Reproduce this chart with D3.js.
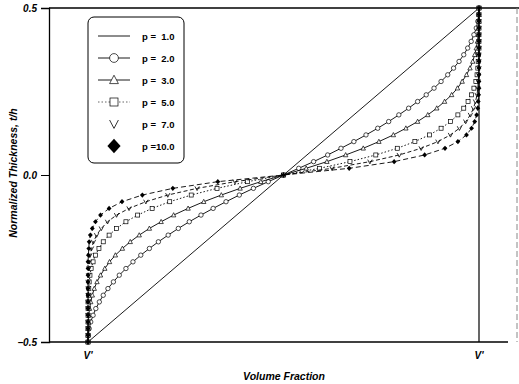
<!DOCTYPE html>
<html>
<head>
<meta charset="utf-8">
<script src="https://cdn.jsdelivr.net/npm/d3@7"></script>
<style>
  body { margin: 0; background: #fff; }
  svg text { font-family: "Liberation Sans", Arial, sans-serif; font-weight: bold; fill: #000; }
</style>
</head>
<body>
<svg id="chart"></svg>
<script>
// Normalized thickness z/h at each sample point
const thickness = [-0.5, -0.48, -0.46, -0.44, -0.42, -0.4, -0.38, -0.36, -0.34, -0.32,
  -0.3, -0.28, -0.26, -0.24, -0.22, -0.2, -0.18, -0.16, -0.14, -0.12,
  -0.1, -0.08, -0.06, -0.04, -0.02, 0, 0.02, 0.04, 0.06, 0.08,
  0.1, 0.12, 0.14, 0.16, 0.18, 0.2, 0.22, 0.24, 0.26, 0.28,
  0.3, 0.32, 0.34, 0.36, 0.38, 0.4, 0.42, 0.44, 0.46, 0.48, 0.5];

// Volume fraction for each p (0 = left V', 1 = right V')
const thicknessP1 = [-0.5, 0.5];
const fractionP1 = [0, 1];
const fractionP2 = [0, .001, .003, .007, .013, .02, .029, .039, .051, .065, .08, .097, .115, .135, .157, .18, .205, .231, .259, .289, .32, .353, .387, .423, .461, .5,
  .539, .577, .613, .647, .68, .711, .741, .769, .795, .82, .843, .865, .885, .903, .92, .935, .949, .961, .971, .98, .987, .993, .997, .999, 1];
const fractionP3 = [0, 0, 0, .001, .002, .004, .007, .011, .016, .023, .032, .043, .055, .07, .088, .108, .131, .157, .187, .219, .256, .296, .341, .389, .442, .5,
  .558, .611, .659, .704, .744, .781, .813, .843, .869, .892, .912, .93, .945, .957, .968, .977, .984, .989, .993, .996, .998, .999, 1, 1, 1];
const fractionP5 = [0, 0, 0, 0, 0, 0, 0, .001, .002, .003, .005, .008, .013, .019, .028, .039, .054, .073, .097, .127, .164, .209, .264, .33, .408, .5,
  .592, .67, .736, .791, .836, .873, .903, .927, .946, .961, .972, .981, .987, .992, .995, .997, .998, .999, 1, 1, 1, 1, 1, 1, 1];
const fractionP7 = [0, 0, 0, 0, 0, 0, 0, 0, 0, 0, .001, .002, .003, .005, .009, .014, .022, .034, .05, .073, .105, .148, .204, .279, .376, .5,
  .624, .721, .796, .852, .895, .927, .95, .966, .978, .986, .991, .995, .997, .998, .999, 1, 1, 1, 1, 1, 1, 1, 1, 1, 1];
const fractionP10 = [0, 0, 0, 0, 0, 0, 0, 0, 0, 0, 0, 0, 0, .001, .002, .003, .006, .011, .019, .032, .054, .087, .139, .217, .332, .5,
  .668, .783, .861, .913, .946, .968, .981, .989, .994, .997, .998, .999, 1, 1, 1, 1, 1, 1, 1, 1, 1, 1, 1, 1, 1];

const legendLabels = ["p =  1.0", "p =  2.0", "p =  3.0", "p =  5.0", "p =  7.0", "p =10.0"];
const yTicks = [0.5, 0.0, -0.5];
const xTickLabels = ["V'", "V'"];

const width = 519, height = 384;
const plotLeft = 49, plotTop = 8, plotBottom = 342, frameRight = 517;

const x = d3.scaleLinear().domain([0, 1]).range([88, 479]);
const y = d3.scaleLinear().domain([-0.5, 0.5]).range([plotBottom, plotTop]);

const svg = d3.select("#chart").attr("width", width).attr("height", height);

const series = [
  { label: legendLabels[0], vf: fractionP1, z: thicknessP1, dash: null, marker: null },
  { label: legendLabels[1], vf: fractionP2, z: thickness, dash: null, marker: "circle" },
  { label: legendLabels[2], vf: fractionP3, z: thickness, dash: null, marker: "triangle" },
  { label: legendLabels[3], vf: fractionP5, z: thickness, dash: "1.5,2", marker: "square" },
  { label: legendLabels[4], vf: fractionP7, z: thickness, dash: "4,2.5", marker: "vee" },
  { label: legendLabels[5], vf: fractionP10, z: thickness, dash: "5,3", marker: "diamond" }
];

// frame
svg.append("line").attr("x1", plotLeft).attr("x2", width).attr("y1", plotTop).attr("y2", plotTop)
  .attr("stroke", "#000").attr("stroke-width", 1.3);
svg.append("line").attr("x1", plotLeft).attr("x2", 508).attr("y1", plotBottom).attr("y2", plotBottom)
  .attr("stroke", "#000").attr("stroke-width", 1.3);
svg.append("line").attr("x1", frameRight).attr("x2", frameRight).attr("y1", plotTop).attr("y2", plotBottom)
  .attr("stroke", "#888").attr("stroke-width", 1).attr("stroke-dasharray", "6,3");
svg.append("line").attr("x1", x(1)).attr("x2", x(1)).attr("y1", plotTop).attr("y2", plotBottom)
  .attr("stroke", "#000").attr("stroke-width", 1.2);

// y-axis
const yAxis = svg.append("g")
  .attr("transform", `translate(${plotLeft},0)`)
  .call(d3.axisLeft(y).tickValues(yTicks).tickSize(8).tickPadding(4).tickFormat(d3.format(".1f")));
yAxis.select(".domain").attr("stroke-width", 1.3);
yAxis.selectAll("text").style("font-size", "10px").style("font-style", "italic").style("font-weight", "bold");

// x labels (V')
svg.append("g").selectAll("text")
  .data(xTickLabels)
  .join("text")
  .attr("x", (d, i) => x(i))
  .attr("y", 359)
  .attr("text-anchor", "middle")
  .style("font-size", "10px").style("font-style", "italic")
  .text(d => d);

// axis titles
svg.append("text").attr("x", 284).attr("y", 380).attr("text-anchor", "middle")
  .style("font-size", "10.5px").style("font-style", "italic").text("Volume Fraction");
svg.append("text").attr("transform", "translate(17,173) rotate(-90)").attr("text-anchor", "middle")
  .style("font-size", "10.5px").style("font-style", "italic").text("Normalized  Thickness, t/h");

function drawMarker(g, type, size) {
  const s = size;
  if (type === "circle") {
    g.append("circle").attr("r", s * 0.55).attr("fill", "#fff").attr("stroke", "#000").attr("stroke-width", 0.7);
  } else if (type === "triangle") {
    g.append("path").attr("d", `M0,${-s * 0.6}L${s * 0.55},${s * 0.45}L${-s * 0.55},${s * 0.45}Z`)
      .attr("fill", "#fff").attr("stroke", "#000").attr("stroke-width", 0.7);
  } else if (type === "square") {
    g.append("rect").attr("x", -s * 0.5).attr("y", -s * 0.5).attr("width", s).attr("height", s)
      .attr("fill", "#fff").attr("stroke", "#000").attr("stroke-width", 0.7);
  } else if (type === "vee") {
    g.append("path").attr("d", `M${-s * 0.55},${-s * 0.5}L0,${s * 0.55}L${s * 0.55},${-s * 0.5}`)
      .attr("fill", "none").attr("stroke", "#000").attr("stroke-width", 0.8);
  } else if (type === "diamond") {
    g.append("path").attr("d", `M0,${-s * 0.65}L${s * 0.6},0L0,${s * 0.65}L${-s * 0.6},0Z`)
      .attr("fill", "#000");
  }
}

const line = d3.line().x(d => x(d[0])).y(d => y(d[1]));

// curves
series.forEach(s => {
  const pts = s.vf.map((v, i) => [v, s.z[i]]);
  svg.append("path")
    .datum(pts)
    .attr("d", line)
    .attr("fill", "none")
    .attr("stroke", "#000")
    .attr("stroke-width", 0.9)
    .attr("stroke-dasharray", s.dash);
  if (s.marker) {
    svg.append("g").selectAll("g")
      .data(pts)
      .join("g")
      .attr("transform", d => `translate(${x(d[0])},${y(d[1])})`)
      .each(function () { drawMarker(d3.select(this), s.marker, 4); });
  }
});

// legend
const legend = svg.append("g");
legend.append("rect").attr("x", 88).attr("y", 17).attr("width", 96).attr("height", 146)
  .attr("rx", 6).attr("fill", "#fff").attr("stroke", "#000").attr("stroke-width", 1);
const legendY = d3.scalePoint().domain(legendLabels).range([36, 146]);
series.forEach(s => {
  const ly = legendY(s.label);
  if (s.marker !== "vee" && s.marker !== "diamond") {
    legend.append("line").attr("x1", 98).attr("x2", 130).attr("y1", ly).attr("y2", ly)
      .attr("stroke", s.dash ? "#555" : "#000").attr("stroke-width", 0.9).attr("stroke-dasharray", s.dash);
  }
  if (s.marker) {
    const g = legend.append("g").attr("transform", `translate(114,${ly})`);
    drawMarker(g, s.marker, s.marker === "diamond" ? 11 : 8);
  }
  legend.append("text").attr("x", 142).attr("y", ly + 3.5)
    .style("font-size", "9.5px").style("white-space", "pre").text(s.label);
});
</script>
</body>
</html>
